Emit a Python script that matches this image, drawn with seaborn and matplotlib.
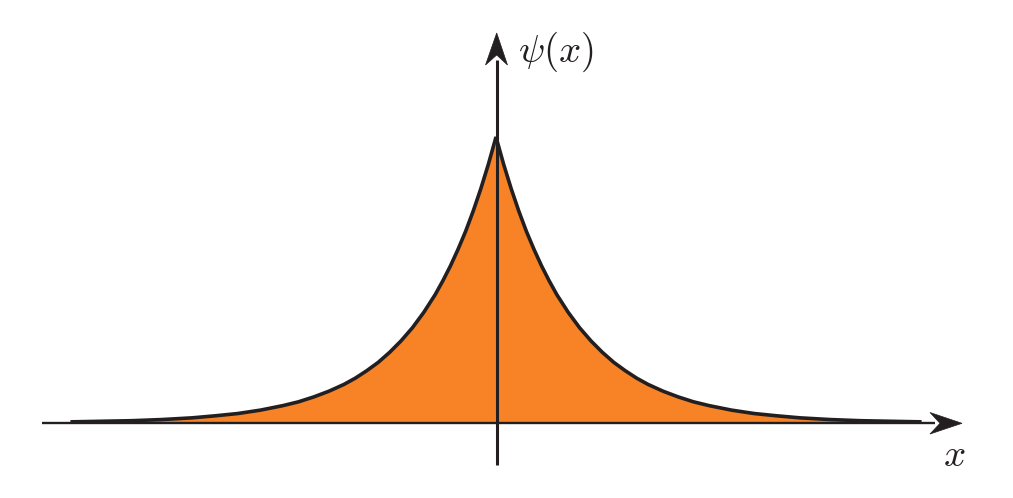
import matplotlib
matplotlib.use("Agg")
import matplotlib.pyplot as plt
import matplotlib.transforms as mtransforms
import matplotlib.patches as mpatches
import seaborn as sns
import pandas as pd

# curve values (x in decay lengths, psi relative to peak)
x_left = [-5.6, -5.2, -4.8, -4.4, -4.0, -3.7, -3.4, -3.1, -2.8, -2.6, -2.4, -2.2,
          -2.0, -1.85, -1.7, -1.55, -1.4, -1.25, -1.1, -0.95, -0.8, -0.7, -0.6,
          -0.5, -0.4, -0.3, -0.2, -0.1, 0.0]
psi_left = [0.004, 0.006, 0.008, 0.012, 0.018, 0.025, 0.033, 0.045, 0.061, 0.074,
            0.091, 0.111, 0.135, 0.157, 0.183, 0.212, 0.247, 0.287, 0.333, 0.387,
            0.449, 0.497, 0.549, 0.607, 0.670, 0.741, 0.819, 0.905, 1.0]
x_right = [0.1, 0.2, 0.3, 0.4, 0.5, 0.6, 0.7, 0.8, 0.95, 1.1, 1.25, 1.4, 1.55, 1.7,
           1.85, 2.0, 2.2, 2.4, 2.6, 2.8, 3.1, 3.4, 3.7, 4.0, 4.4, 4.8, 5.2, 5.6]
psi_right = [0.905, 0.819, 0.741, 0.670, 0.607, 0.549, 0.497, 0.449, 0.387, 0.333,
             0.287, 0.247, 0.212, 0.183, 0.157, 0.135, 0.111, 0.091, 0.074, 0.061,
             0.045, 0.033, 0.025, 0.018, 0.012, 0.008, 0.006, 0.004]

df = pd.DataFrame({"x": x_left + x_right, "psi": psi_left + psi_right})

sns.set_theme(style="white")
plt.rcParams["mathtext.fontset"] = "cm"

W, H = 1013, 498
fig = plt.figure(figsize=(W / 100, H / 100), dpi=100)
ax = fig.add_axes([0, 0, 1, 1])

# pixel mapping: centre at px 496, 76 px per unit; baseline at px 423, peak height 286 px
cx, L, base, peak = 496.0, 76.0, 423.0, 286.0
ax.set_xlim(-cx / L, (W - cx) / L)
ax.set_ylim(-(H - base) / peak, base / peak)
ax.axis("off")

dark = "#231F20"
orange = "#F78326"

ax.fill_between(df["x"], 0, df["psi"], color=orange, linewidth=0, zorder=1)

# pixel-coordinate transform for axis decorations
pix = mtransforms.Affine2D().scale(1.0 / W, -1.0 / H).translate(0, 1) + fig.transFigure

# horizontal axis
ax.plot([42, 935], [base, base], color=dark, lw=1.7, transform=pix, zorder=2,
        solid_capstyle="butt")
# vertical axis
ax.plot([496.5, 496.5], [465, 60], color=dark, lw=2.2, transform=pix, zorder=2,
        solid_capstyle="butt")

# arrowheads (stealth style)
harrow = mpatches.Polygon([[962, 423.3], [930, 412.5], [940, 423.3], [930, 434]],
                          closed=True, facecolor=dark, edgecolor=dark, lw=0.5,
                          transform=pix, zorder=3)
varrow = mpatches.Polygon([[496.7, 33], [485.5, 65], [496.7, 55], [507.5, 65]],
                          closed=True, facecolor=dark, edgecolor=dark, lw=0.5,
                          transform=pix, zorder=3)
ax.add_patch(harrow)
ax.add_patch(varrow)

# curve
sns.lineplot(data=df, x="x", y="psi", ax=ax, color=dark, linewidth=2.6,
             sort=False, zorder=4)
ax.lines[-1].set_solid_joinstyle("miter")
ax.lines[-1].set_solid_capstyle("butt")

ax.text(518, 62, r"$\psi(x)$", transform=pix, fontsize=28, color=dark,
        ha="left", va="baseline")
ax.text(943, 466, r"$x$", transform=pix, fontsize=28, color=dark,
        ha="left", va="baseline")

fig.savefig("out.png", dpi=100, facecolor="white")
